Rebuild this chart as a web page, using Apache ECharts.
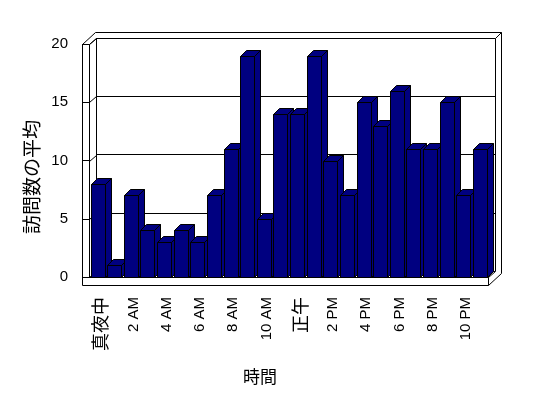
<!DOCTYPE html>
<html>
<head>
    <meta charset="utf-8">
    <title>訪問数の平均</title>
    <script src="https://cdn.jsdelivr.net/npm/echarts/dist/echarts.min.js"></script>
    <style>
    html, body { margin: 0; padding: 0; background: #fff; }
    #main { width: 548px; height: 398px; }
    </style>
</head>
<body>
    <div id="main"></div>
    <script type="text/javascript">
        // data
        var hours = ['真夜中', '1 AM', '2 AM', '3 AM', '4 AM', '5 AM', '6 AM', '7 AM', '8 AM', '9 AM', '10 AM', '11 AM',
                     '正午', '1 PM', '2 PM', '3 PM', '4 PM', '5 PM', '6 PM', '7 PM', '8 PM', '9 PM', '10 PM', '11 PM'];
        var visits = [8, 1, 7, 4, 3, 4, 3, 7, 11, 19, 5, 14, 14, 19, 10, 7, 15, 13, 16, 11, 11, 15, 7, 11];
        var yTicks = [0, 5, 10, 15, 20];
        var xTitle = '時間';
        var yTitle = '訪問数の平均';

        // layout of the 3d box (front plane, depth offset, wall thickness)
        var W = 548, H = 398;
        var L = 89, R = 488, T = 44, B = 277;
        var DX = 7, DY = -6, WALL = 7, FLOOR = 8;
        var OX = 13, OY = -12; // outer back edge
        var navy = '#000080';
        var numFont = '"Liberation Sans", Arial, "Noto Sans CJK JP", sans-serif';
        var jpFont = '"Noto Sans CJK JP", sans-serif';

        function px(v) { return Math.round(v) + 0.5; }
        function seg(x1, y1, x2, y2) {
            return { type: 'line', z: -5, silent: true,
                shape: { x1: px(x1), y1: px(y1), x2: px(x2), y2: px(y2) },
                style: { stroke: '#000', lineWidth: 1 } };
        }

        var myChart = echarts.init(document.getElementById('main'));
        var option = {
            backgroundColor: '#fff',
            animation: false,
            grid: [
                { left: L, right: W - R, top: T, bottom: H - B },
                { left: L + DX, right: W - R - DX, top: T + DY, bottom: H - B - DY }
            ],
            xAxis: [
                {
                    type: 'category', gridIndex: 0, data: hours, offset: FLOOR,
                    axisLine: { show: true, lineStyle: { color: '#000', width: 1 } },
                    axisTick: { show: true, inside: true, length: FLOOR, interval: 0, lineStyle: { color: '#000' } },
                    axisLabel: {
                        interval: 1, rotate: 90, margin: 12, color: '#000', fontSize: 15, fontFamily: numFont,
                        padding: [6, 0, 0, 0],
                        formatter: function (v) {
                            return /[\u3000-\u9fff]/.test(v) ? '{jp|' + v + '}' : v;
                        },
                        rich: { jp: { fontSize: 18, fontFamily: jpFont, color: '#000' } }
                    }
                },
                {
                    type: 'category', gridIndex: 1, data: hours, show: false
                }
            ],
            yAxis: [
                {
                    type: 'value', gridIndex: 0, min: yTicks[0], max: yTicks[yTicks.length - 1], interval: 5,
                    offset: WALL,
                    axisLine: { show: false },
                    axisTick: { show: true, inside: true, length: WALL, lineStyle: { color: '#000' } },
                    splitLine: { show: false },
                    axisLabel: { margin: 14, color: '#000', fontSize: 15, fontFamily: numFont }
                },
                {
                    type: 'value', gridIndex: 1, min: yTicks[0], max: yTicks[yTicks.length - 1], interval: 5,
                    axisLine: { show: false }, axisTick: { show: false }, axisLabel: { show: false },
                    splitLine: { show: true, lineStyle: { color: '#000', width: 1 } }
                }
            ],
            graphic: [
                // outer box
                { type: 'polygon', z: -10, silent: true,
                  shape: { points: [[px(L - WALL), px(T)], [px(L - WALL), px(B + FLOOR)], [px(R), px(B + FLOOR)],
                                    [px(R + OX), px(B + FLOOR + OY)], [px(R + OX), px(T + OY)], [px(L - WALL + OX), px(T + OY)]] },
                  style: { fill: '#fff', stroke: '#000', lineWidth: 1 } },
                // left wall front strip
                seg(L - WALL, T, L, T),
                seg(L, T, L, B),
                // floor front
                seg(L, B, R, B),
                seg(R, B, R, B + FLOOR),
                // back wall inner face
                seg(L + DX, T + DY, L + DX, B + DY),
                seg(L + DX, T + DY, R + DX, T + DY),
                seg(R + DX, T + DY, R + DX, B + DY),
                // depth diagonals
                seg(L, T, L + DX, T + DY),
                seg(R, B, R + DX, B + DY),
                seg(R + DX, T + DY, R + OX, T + OY),
                // titles
                { type: 'text', x: 260, y: 377, silent: true,
                  style: { text: xTitle, font: '17px ' + jpFont, fill: '#000',
                           textAlign: 'center', textVerticalAlign: 'middle', align: 'center', verticalAlign: 'middle' } },
                { type: 'text', x: 32, y: 177, rotation: Math.PI / 2, silent: true,
                  style: { text: yTitle, font: '19px ' + jpFont, fill: '#000',
                           textAlign: 'center', textVerticalAlign: 'middle', align: 'center', verticalAlign: 'middle' } }
            ],
            series: [
                {
                    // gridline traces on the left wall
                    type: 'custom', xAxisIndex: 0, yAxisIndex: 0, silent: true, z: 1,
                    data: yTicks.map(function (v) { return [0, v]; }),
                    renderItem: function (params, api) {
                        var p = api.coord([0, api.value(1)]);
                        var w = api.size([1, 0])[0];
                        var x = p[0] - w / 2;
                        return { type: 'line',
                            shape: { x1: px(x), y1: px(p[1]), x2: px(x + DX), y2: px(p[1] + DY) },
                            style: { stroke: '#000', lineWidth: 1 } };
                    }
                },
                {
                    name: yTitle,
                    type: 'custom', xAxisIndex: 0, yAxisIndex: 0, z: 3,
                    data: visits.map(function (v, i) { return [i, v]; }),
                    renderItem: function (params, api) {
                        var i = api.value(0);
                        var top = api.coord([i, api.value(1)]);
                        var base = api.coord([i, 0]);
                        var w = api.size([1, 0])[0];
                        var x0 = Math.round(top[0] - w / 2 + 1.5) + 0.5;
                        var x1 = x0 + Math.round(w * 0.84);
                        var y1 = px(top[1]), y0 = px(base[1]);
                        var bd = 6;
                        var st = { fill: navy, stroke: '#000', lineWidth: 1 };
                        return { type: 'group', children: [
                            { type: 'polygon', shape: { points: [[x1, y1], [x1 + bd, y1 - bd], [x1 + bd, y0 - bd], [x1, y0]] }, style: st },
                            { type: 'polygon', shape: { points: [[x0, y1], [x0 + bd, y1 - bd], [x1 + bd, y1 - bd], [x1, y1]] }, style: st },
                            { type: 'rect', shape: { x: x0, y: y1, width: x1 - x0, height: y0 - y1 }, style: st }
                        ] };
                    }
                }
            ]
        };
        myChart.setOption(option);
    </script>
</body>
</html>
